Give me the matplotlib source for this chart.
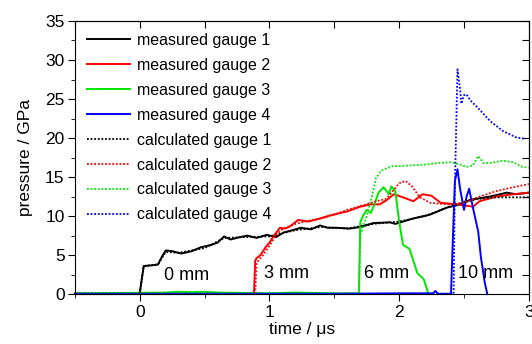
import matplotlib
matplotlib.use('Agg')
import matplotlib.pyplot as plt
from matplotlib.ticker import MultipleLocator

plt.rcParams['font.family'] = ['Liberation Sans', 'DejaVu Sans']

# measured gauge 1
t_m1 = [-0.5, -0.01, 0.0, 0.03, 0.1, 0.14, 0.17, 0.2, 0.25, 0.32, 0.4, 0.47, 0.55, 0.6,
        0.65, 0.7, 0.77, 0.83, 0.9, 0.98, 1.05, 1.11, 1.18, 1.24, 1.32, 1.39, 1.45, 1.52,
        1.62, 1.7, 1.8, 1.93, 1.97, 2.05, 2.11, 2.24, 2.37, 2.45, 2.55, 2.7, 2.83, 2.9, 3.0]
p_m1 = [0.05, 0.05, 0.3, 3.6, 3.7, 3.8, 4.8, 5.6, 5.5, 5.2, 5.5, 6.0, 6.3, 6.6,
        7.4, 7.0, 7.3, 7.5, 7.2, 7.6, 7.3, 7.9, 8.2, 8.5, 8.3, 8.8, 8.5, 8.5,
        8.4, 8.6, 9.1, 9.2, 9.0, 9.4, 9.7, 10.2, 11.1, 11.4, 12.1, 12.5, 13.0, 12.8, 13.0]

# measured gauge 2
t_m2 = [-0.5, 0.88, 0.89, 0.9, 0.93, 0.97, 1.0, 1.03, 1.08, 1.12, 1.16, 1.22, 1.3, 1.37,
        1.47, 1.6, 1.7, 1.78, 1.85, 1.9, 1.96, 2.03, 2.11, 2.18, 2.25, 2.32, 2.45, 2.57,
        2.62, 2.75, 2.88, 3.0]
p_m2 = [0.05, 0.05, 4.3, 4.6, 5.0, 6.0, 6.6, 7.4, 8.5, 8.4, 8.7, 9.5, 9.3, 9.6,
        10.1, 10.6, 11.2, 11.5, 11.5, 12.0, 12.8, 12.4, 11.9, 12.8, 12.6, 11.7, 11.5, 11.2,
        11.9, 12.5, 12.8, 13.0]

# measured gauge 3
t_m3 = [-0.5, 0.2, 0.3, 0.4, 0.5, 0.6, 1.0, 1.2, 1.5, 1.69, 1.7, 1.72, 1.75, 1.78, 1.81,
        1.84, 1.88, 1.92, 1.94, 1.97, 2.0, 2.03, 2.08, 2.14, 2.19, 2.22, 2.23]
p_m3 = [0.1, 0.2, 0.3, 0.25, 0.3, 0.2, 0.1, 0.2, 0.1, 0.1, 9.2, 10.0, 10.8, 10.4, 11.5,
        13.0, 13.7, 12.8, 13.8, 13.2, 9.3, 6.3, 5.8, 2.7, 1.9, 0.3, 0.0]

# measured gauge 4
t_m4 = [-0.5, 0.5, 1.0, 1.5, 2.0, 2.26, 2.28, 2.3, 2.40, 2.41, 2.43, 2.45, 2.47, 2.5,
        2.52, 2.54, 2.57, 2.61, 2.63, 2.66, 2.68]
p_m4 = [0.05, 0.05, 0.05, 0.05, 0.1, 0.1, 0.4, 0.05, 0.05, 5.0, 14.5, 16.0, 13.5, 10.8,
        12.5, 13.5, 11.0, 8.0, 4.8, 1.5, 0.0]

# calculated gauges
t_c1 = [-0.5, 0.0, 0.03, 0.14, 0.2, 0.3, 0.5, 0.65, 0.8, 1.0, 1.2, 1.4, 1.6, 1.8, 2.0,
        2.2, 2.4, 2.6, 2.75, 3.0]
p_c1 = [0.0, 0.0, 3.6, 3.8, 5.4, 5.3, 5.9, 7.2, 7.3, 7.4, 8.2, 8.6, 8.4, 9.0, 9.3,
        10.0, 11.3, 12.2, 12.4, 12.4]

t_c2 = [-0.5, 0.89, 0.9, 0.95, 1.0, 1.05, 1.1, 1.2, 1.3, 1.4, 1.5, 1.6, 1.7, 1.8, 1.9,
        1.95, 2.0, 2.05, 2.1, 2.16, 2.24, 2.37, 2.5, 2.62, 2.75, 2.88, 3.0]
p_c2 = [0.0, 0.0, 4.0, 5.0, 6.2, 7.6, 8.3, 9.0, 9.4, 9.7, 10.2, 10.8, 11.3, 11.8, 12.2,
        13.2, 14.2, 14.5, 13.8, 12.4, 11.7, 11.5, 11.7, 12.5, 13.2, 13.7, 14.1]

t_c3 = [-0.5, 1.69, 1.7, 1.75, 1.79, 1.82, 1.86, 1.9, 1.95, 2.0, 2.1, 2.2, 2.3, 2.4,
        2.47, 2.52, 2.57, 2.61, 2.65, 2.7, 2.8, 2.88, 2.95, 3.0]
p_c3 = [0.0, 0.0, 7.5, 10.0, 12.5, 14.8, 15.8, 16.1, 16.4, 16.4, 16.5, 16.6, 16.8, 16.9,
        16.6, 16.3, 16.5, 17.7, 16.8, 16.8, 17.1, 16.9, 16.3, 16.2]

t_c4 = [-0.5, 2.42, 2.43, 2.45, 2.46, 2.47, 2.48, 2.5, 2.52, 2.55, 2.6, 2.7, 2.8, 2.9, 2.97]
p_c4 = [0.0, 0.0, 14.0, 28.8, 27.5, 26.3, 24.4, 25.5, 25.6, 24.8, 24.0, 22.2, 20.9, 20.1, 19.9]

labels = ['measured gauge 1', 'measured gauge 2', 'measured gauge 3', 'measured gauge 4',
          'calculated gauge 1', 'calculated gauge 2', 'calculated gauge 3', 'calculated gauge 4']
colors = ['black', '#ff0000', '#00e600', '#0000ff']

depths = ['0 mm', '3 mm', '6 mm', '10 mm']
depth_t = [0.36, 1.13, 1.9, 2.67]
depth_p = [2.45, 2.6, 2.6, 2.6]

fig = plt.figure(figsize=(5.32, 3.44), dpi=100)
ax = fig.add_axes([0.141, 0.145, 0.853, 0.794])

measured = [(t_m1, p_m1), (t_m2, p_m2), (t_m3, p_m3), (t_m4, p_m4)]
calculated = [(t_c1, p_c1), (t_c2, p_c2), (t_c3, p_c3), (t_c4, p_c4)]
for i, (t, p) in enumerate(measured):
    ax.plot(t, p, color=colors[i], lw=1.4, label=labels[i], clip_on=False)
for i, (t, p) in enumerate(calculated):
    ax.plot(t, p, color=colors[i], lw=1.3, ls=(0, (1, 1)), label=labels[4 + i], clip_on=False)

for s, t, p in zip(depths, depth_t, depth_p):
    ax.text(t, p, s, fontsize=13, ha='center', va='center')

ax.set_xlim(-0.5, 3)
ax.set_ylim(0, 35)
ax.xaxis.set_major_locator(MultipleLocator(1))
ax.xaxis.set_minor_locator(MultipleLocator(0.5))
ax.yaxis.set_major_locator(MultipleLocator(5))
ax.yaxis.set_minor_locator(MultipleLocator(2.5))
ax.tick_params(which='both', direction='out', top=False, right=False, labelsize=12.5, pad=2.5)
ax.tick_params(which='major', length=5)
ax.tick_params(which='minor', length=3)

# inward ticks on top and right
axt = ax.secondary_xaxis('top')
axt.xaxis.set_major_locator(MultipleLocator(0.5))
axt.tick_params(direction='in', length=5, labeltop=False)
axr = ax.secondary_yaxis('right')
axr.yaxis.set_major_locator(MultipleLocator(2.5))
axr.tick_params(direction='in', length=5, labelright=False)

ax.set_xlabel('time / \u03bcs', fontsize=12.5, labelpad=2)
ax.set_ylabel('pressure / GPa', fontsize=12.5, labelpad=9)

ax.legend(loc='upper left', bbox_to_anchor=(0.026, 0.956), frameon=False, fontsize=11.5,
          borderaxespad=0, borderpad=0, handlelength=2.7, handletextpad=0.44,
          labelspacing=0.62)

fig.savefig('out.png', dpi=100)
